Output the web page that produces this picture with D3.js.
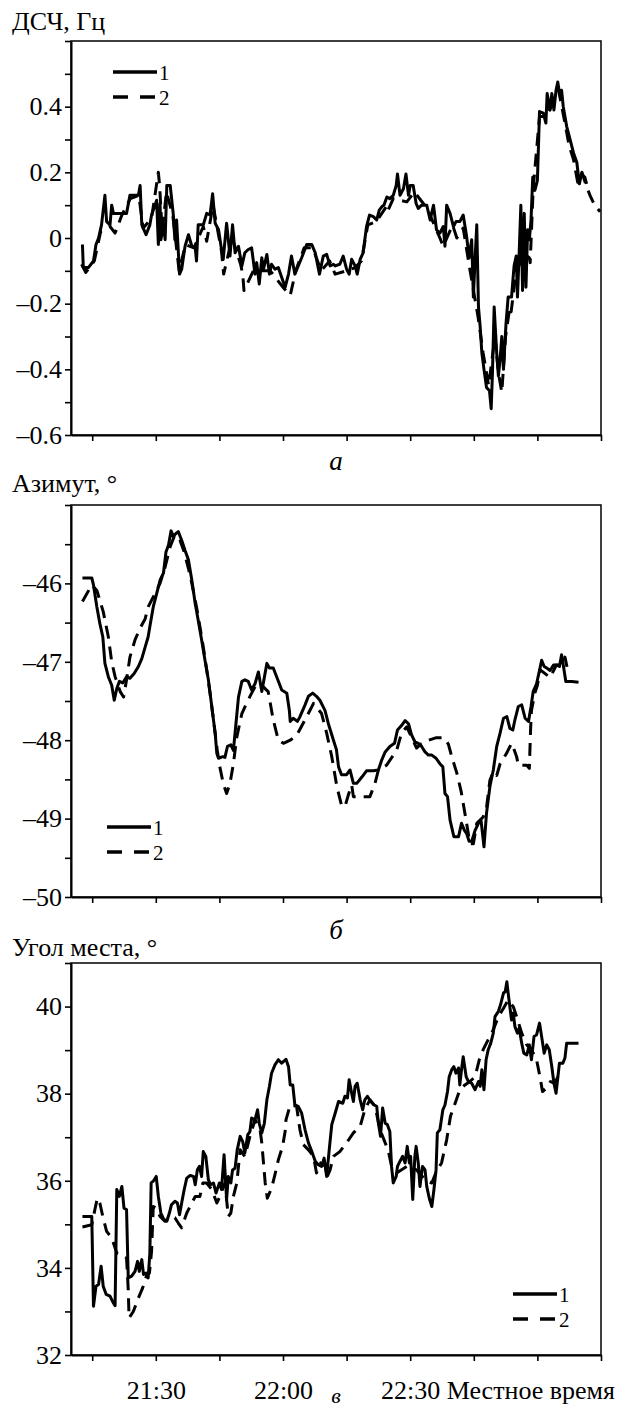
<!DOCTYPE html>
<html>
<head>
<meta charset="utf-8">
<script src="https://cdn.jsdelivr.net/npm/d3@7"></script>
<style>
    body { margin: 0; background: #fff; }
    svg { display: block; }
    svg text { font-family: "Liberation Serif", "Tinos", "Times New Roman", "DejaVu Serif", serif !important; fill: #000; }
</style>
</head>
<body>
<svg id="chart" width="618" height="1411"></svg>
<script>
// time is in minutes after 21:00 local time
var timeTicks = [15, 30, 45, 60, 75, 90, 105, 120, 135];
var timeLabels = {30: '21:30', 60: '22:00', 90: '22:30'};

// а) ДСЧ, Гц
var dschSolid = [[12.7,-0.02],[12.9,-0.09],[14.1,-0.09],[15.3,-0.07],[15.9,-0.02],[16.5,0.0],[17.2,0.04],[18.0,0.13],[18.4,0.05],[19.2,0.04],[19.6,0.1],[20.0,0.075],[23.1,0.075],[23.9,0.13],[25.9,0.13],[26.3,0.16],[26.7,0.04],[27.7,0.01],[28.6,0.04],[29.0,0.07],[29.8,0.1],[30.2,0.115],[30.6,-0.02],[31.0,0.105],[31.2,-0.005],[31.8,0.04],[32.2,-0.005],[32.6,0.16],[33.4,0.16],[34.1,0.075],[34.5,-0.005],[34.9,0.055],[35.6,-0.11],[36.1,-0.095],[36.9,-0.025],[37.7,0.01],[38.5,-0.025],[39.3,-0.03],[39.6,-0.07],[40.0,0.04],[41.2,0.04],[42.0,0.075],[42.8,0.07],[43.4,0.135],[44.0,0.045],[44.8,0.025],[45.5,-0.035],[45.9,-0.065],[46.7,0.045],[47.5,-0.055],[48.1,0.04],[48.7,-0.045],[49.5,-0.025],[50.3,-0.085],[51.0,-0.045],[51.8,-0.035],[52.6,-0.03],[53.4,-0.11],[53.8,-0.075],[54.4,-0.14],[55.0,-0.06],[55.4,-0.095],[56.2,-0.05],[56.8,-0.11],[57.3,-0.08],[58.1,-0.095],[58.9,-0.09],[59.7,-0.12],[60.5,-0.15],[61.3,-0.11],[62.0,-0.055],[62.8,-0.11],[63.6,-0.085],[64.4,-0.06],[65.6,-0.02],[66.8,-0.02],[67.6,-0.045],[68.6,-0.11],[69.5,-0.055],[70.3,-0.05],[71.1,-0.085],[71.9,-0.08],[72.3,-0.085],[73.4,-0.08],[74.2,-0.055],[75.0,-0.095],[75.6,-0.11],[76.2,-0.065],[77.0,-0.085],[77.5,-0.11],[78.2,-0.065],[78.9,-0.045],[79.7,0.035],[80.4,0.07],[81.3,0.065],[82.1,0.055],[82.7,0.085],[83.3,0.095],[83.8,0.1],[84.5,0.125],[85.2,0.12],[86.0,0.13],[86.7,0.16],[87.0,0.195],[87.6,0.13],[88.4,0.15],[89.0,0.195],[89.6,0.13],[90.0,0.16],[90.7,0.16],[91.4,0.105],[91.9,0.09],[92.7,0.1],[93.9,0.1],[94.7,0.055],[95.5,0.1],[96.2,0.025],[97.0,0.015],[97.8,0.035],[98.2,-0.025],[98.6,0.1],[99.4,0.075],[100.2,0.035],[100.8,0.05],[101.7,0.05],[102.5,0.07],[103.3,0.005],[103.9,-0.06],[104.5,-0.005],[104.9,-0.18],[105.3,-0.065],[105.7,0.04],[106.1,-0.21],[106.5,-0.27],[106.9,-0.35],[107.4,-0.4],[108.0,-0.455],[108.7,-0.465],[109.1,-0.52],[109.4,-0.41],[109.8,-0.21],[110.4,-0.35],[110.8,-0.42],[111.2,-0.37],[111.6,-0.3],[112.0,-0.4],[112.6,-0.26],[113.1,-0.18],[113.9,-0.18],[114.5,-0.085],[115.0,-0.055],[115.3,-0.18],[115.7,-0.045],[116.1,0.1],[116.5,-0.16],[116.9,0.075],[117.3,-0.15],[117.7,0.025],[118.1,-0.005],[118.5,0.055],[118.9,0.185],[119.4,0.145],[120.0,0.175],[120.5,0.385],[121.4,0.38],[122.0,0.35],[122.3,0.44],[123.0,0.39],[123.4,0.44],[123.9,0.39],[124.4,0.45],[124.8,0.475],[125.3,0.435],[125.7,0.45],[126.1,0.4],[126.9,0.34],[127.7,0.3],[128.5,0.26],[129.3,0.23],[129.9,0.165],[130.4,0.195],[131.2,0.185],[131.6,0.165]];
var dschDashed = [[12.5,-0.08],[13.5,-0.105],[15.5,-0.07],[17,0.02],[18.5,0.03],[19.2,0.035],[20.4,0.015],[22,0.07],[24,0.12],[26,0.13],[27,0.03],[29,0.06],[30.6,0.2],[30.9,0.16],[31.5,0.02],[32.5,0.14],[34,0.07],[35.5,-0.1],[37,-0.02],[39,-0.03],[41.2,0.035],[42,-0.01],[43.5,0.1],[45.5,-0.04],[46,-0.11],[48,0.0],[50,-0.08],[50.5,-0.11],[50.8,-0.16],[53,-0.1],[55,-0.1],[57,-0.1],[60,-0.15],[61.7,-0.175],[63,-0.1],[65,-0.03],[67,-0.03],[69,-0.1],[71,-0.07],[72.3,-0.11],[75,-0.1],[77,-0.09],[78.5,-0.07],[80,0.04],[82,0.05],[84.6,0.1],[84.8,0.085],[86,0.12],[89.2,0.11],[91,0.14],[94,0.09],[97,0.0],[97.8,-0.025],[100,0.04],[101,0.0],[102.5,0.03],[104,-0.09],[106,-0.24],[107.2,-0.35],[108.5,-0.45],[110,-0.3],[110.8,-0.41],[111.6,-0.47],[112.5,-0.3],[113.5,-0.21],[113.8,-0.225],[115,-0.1],[117,-0.05],[118.1,-0.06],[118.3,-0.075],[119,0.15],[120.5,0.37],[122,0.37],[124,0.42],[125,0.45],[126.5,0.35],[127.5,0.28],[128.5,0.24],[129.5,0.17],[130.5,0.2],[131.5,0.16],[132.4,0.13],[133.5,0.1],[134.8,0.08]];

// б) Азимут, °
var azSolid = [[12.7,-45.93],[14.9,-45.93],[15.3,-46.02],[16.1,-46.3],[16.8,-46.51],[17.5,-46.68],[18.0,-47.02],[18.8,-47.19],[19.6,-47.3],[20.2,-47.49],[20.8,-47.34],[21.4,-47.25],[22.2,-47.27],[23.1,-47.19],[23.9,-47.21],[24.9,-47.15],[25.9,-47.06],[26.7,-46.96],[27.5,-46.81],[28.2,-46.68],[28.6,-46.55],[29.4,-46.3],[30.2,-46.13],[31.0,-45.96],[31.8,-45.87],[32.4,-45.6],[33.0,-45.51],[33.6,-45.33],[34.1,-45.4],[34.8,-45.36],[35.3,-45.34],[36.1,-45.45],[36.9,-45.58],[37.7,-45.7],[38.5,-45.96],[39.3,-46.26],[40.0,-46.47],[40.8,-46.72],[41.6,-46.98],[42.4,-47.23],[43.2,-47.57],[44.0,-47.91],[44.4,-48.17],[44.8,-48.23],[45.8,-48.21],[46.3,-48.22],[46.9,-48.08],[47.7,-48.06],[48.3,-48.13],[48.9,-47.79],[49.5,-47.45],[50.3,-47.25],[51.0,-47.23],[51.8,-47.25],[52.6,-47.36],[53.4,-47.28],[54.2,-47.13],[55.0,-47.38],[55.5,-47.23],[56.2,-47.02],[56.8,-47.08],[57.7,-47.08],[58.5,-47.19],[59.7,-47.36],[60.9,-47.4],[61.5,-47.62],[61.7,-47.76],[62.4,-47.72],[63.4,-47.76],[64.0,-47.7],[65.2,-47.55],[66.0,-47.44],[67.0,-47.4],[67.9,-47.44],[68.7,-47.49],[69.9,-47.62],[70.7,-47.79],[71.9,-48.0],[72.6,-48.12],[73.1,-48.34],[73.8,-48.44],[75.0,-48.44],[75.8,-48.38],[76.6,-48.55],[77.4,-48.55],[78.6,-48.47],[79.7,-48.39],[81.3,-48.39],[82.5,-48.38],[83.3,-48.25],[84.1,-48.15],[85.2,-48.08],[86.3,-48.04],[87.0,-47.87],[88.0,-47.81],[88.8,-47.75],[89.6,-47.79],[90.3,-47.93],[91.1,-48.02],[91.9,-48.04],[92.7,-48.08],[93.5,-48.15],[94.3,-48.19],[95.1,-48.19],[96.1,-48.23],[97.0,-48.3],[97.7,-48.34],[98.2,-48.68],[98.8,-48.72],[99.4,-49.02],[100.3,-49.23],[101.4,-49.23],[102.1,-49.06],[102.8,-49.15],[103.3,-49.19],[103.9,-49.29],[104.5,-49.29],[105.3,-49.15],[106.1,-49.06],[106.7,-49.02],[107.4,-49.36],[108.0,-48.93],[108.8,-48.59],[109.6,-48.38],[110.4,-48.08],[111.2,-47.91],[112.0,-47.72],[112.8,-47.7],[113.5,-47.85],[114.2,-47.87],[114.7,-47.74],[115.5,-47.57],[116.3,-47.55],[117.1,-47.72],[117.9,-47.76],[118.5,-47.57],[119.0,-47.38],[119.8,-47.28],[120.5,-47.11],[121.0,-46.98],[121.6,-47.06],[122.2,-47.08],[123.0,-47.11],[123.8,-47.04],[124.5,-47.04],[125.2,-47.06],[125.7,-46.91],[126.1,-47.04],[126.7,-47.25],[128.1,-47.25],[129.7,-47.26]];
var azDashed = [[12.7,-46.23],[14.9,-46.02],[16.1,-46.09],[17.6,-46.36],[18.8,-46.68],[19.6,-47.0],[20.4,-47.19],[21.6,-47.38],[22.4,-47.45],[23.1,-47.23],[23.9,-46.94],[25.1,-46.72],[26.3,-46.57],[27.5,-46.45],[28.2,-46.3],[29.8,-46.13],[31.0,-46.0],[32.2,-45.79],[33.4,-45.53],[34.5,-45.38],[35.7,-45.45],[36.7,-45.6],[37.7,-45.81],[38.5,-46.0],[39.6,-46.3],[40.4,-46.55],[41.2,-46.81],[42.0,-47.1],[42.8,-47.4],[43.6,-47.74],[44.5,-48.13],[45.1,-48.34],[45.9,-48.55],[46.7,-48.68],[47.5,-48.55],[48.3,-48.3],[49.1,-47.96],[50.3,-47.66],[51.4,-47.53],[52.6,-47.4],[53.8,-47.28],[55.0,-47.3],[56.5,-47.38],[57.7,-47.74],[58.9,-48.0],[60.1,-48.04],[61.7,-48.0],[63.2,-47.94],[65.2,-47.74],[67.2,-47.53],[69.1,-47.66],[70.3,-47.91],[71.5,-48.21],[72.7,-48.59],[73.8,-48.83],[74.6,-48.85],[75.4,-48.7],[76.2,-48.57],[76.6,-48.72],[80.5,-48.72],[81.7,-48.55],[82.5,-48.38],[84.4,-48.32],[86.8,-48.13],[88.0,-47.9],[89.2,-47.83],[90.2,-47.95],[91.5,-48.1],[92.5,-48.05],[94.3,-48.0],[96.0,-47.97],[98.0,-47.97],[99.0,-48.05],[99.8,-48.21],[101.0,-48.42],[102.0,-48.65],[102.8,-48.9],[103.3,-49.06],[104.1,-49.32],[104.9,-49.32],[105.7,-49.06],[107.2,-48.98],[108.0,-48.86],[108.8,-48.51],[109.6,-48.4],[110.4,-48.45],[111.2,-48.3],[112.7,-48.17],[113.9,-48.04],[114.5,-48.12],[115.1,-48.21],[115.5,-48.32],[117.5,-48.32],[118.1,-48.36],[118.4,-47.85],[118.6,-47.62],[119.4,-47.4],[120.0,-47.3],[120.6,-47.1],[123.0,-47.2],[124.5,-47.04],[126.1,-47.04],[126.5,-46.94],[127.3,-47.15]];

// в) Угол места, °
var elSolid = [[12.7,35.18],[14.9,35.18],[15.3,33.12],[15.9,33.58],[16.5,33.62],[17.1,34.04],[17.6,33.58],[18.3,33.39],[19.2,33.35],[19.8,33.23],[20.4,33.13],[20.8,35.8],[21.4,35.64],[22.0,35.87],[22.5,35.37],[23.1,35.34],[23.5,33.77],[24.3,33.81],[25.1,33.92],[25.7,34.15],[26.1,33.92],[26.7,34.19],[27.1,33.85],[27.7,33.88],[28.2,33.77],[28.6,34.34],[28.9,35.95],[29.4,35.99],[30.1,36.1],[30.6,35.64],[31.2,35.26],[31.9,35.11],[32.6,35.07],[33.2,35.26],[33.7,35.45],[34.5,35.53],[35.1,35.49],[35.6,35.22],[36.1,35.49],[36.7,35.8],[37.3,36.06],[38.1,36.12],[38.9,36.1],[39.3,35.91],[39.8,36.25],[40.3,36.33],[40.8,36.1],[41.2,36.67],[41.8,36.56],[42.4,36.02],[42.9,35.91],[43.6,35.95],[44.2,35.72],[45.0,35.95],[45.5,35.8],[46.1,36.6],[46.7,35.57],[47.1,36.1],[47.7,35.95],[48.1,36.25],[48.7,36.29],[49.2,36.71],[49.9,37.02],[50.5,36.9],[51.0,36.64],[51.7,37.06],[52.2,37.13],[52.6,37.44],[53.4,37.4],[54.0,37.63],[54.4,37.32],[55.0,37.1],[55.6,37.32],[56.2,37.86],[56.8,38.17],[57.3,38.47],[58.1,38.66],[58.9,38.78],[59.7,38.7],[60.7,38.79],[61.3,38.62],[61.7,38.2],[62.3,38.2],[62.8,37.74],[63.6,37.71],[64.4,37.55],[65.2,37.17],[66.0,36.87],[66.8,36.67],[67.6,36.45],[68.3,36.37],[69.1,36.33],[69.7,36.52],[70.3,36.1],[70.9,36.71],[71.5,37.29],[72.3,37.55],[73.1,37.82],[74.1,37.78],[74.6,37.94],[75.2,37.9],[75.6,38.32],[76.2,38.01],[76.6,37.82],[77.0,38.17],[77.5,38.24],[78.2,37.86],[78.8,37.63],[79.3,37.86],[79.9,37.94],[80.7,37.82],[81.5,37.74],[82.1,37.71],[82.5,37.32],[83.0,37.02],[83.5,37.67],[84.1,37.32],[84.6,37.29],[85.2,37.13],[85.6,36.33],[86.0,35.95],[86.7,36.1],[87.0,36.33],[87.6,36.45],[88.2,36.56],[88.8,36.41],[89.3,36.79],[89.8,36.41],[90.1,36.56],[90.6,35.57],[91.1,36.56],[91.4,36.79],[91.9,36.41],[92.3,35.87],[92.9,36.33],[93.5,36.25],[93.9,35.87],[94.5,35.6],[95.1,35.41],[95.6,35.8],[96.1,36.25],[96.4,37.1],[97.0,37.17],[97.7,37.63],[98.2,37.74],[98.8,38.05],[99.2,38.39],[99.8,38.55],[100.3,38.62],[100.8,38.47],[101.4,38.59],[101.7,38.2],[102.1,38.55],[102.5,38.85],[103.2,38.39],[103.7,38.28],[104.5,38.24],[105.3,38.09],[106.1,38.28],[106.5,38.17],[106.9,38.55],[107.4,38.09],[107.9,38.78],[108.4,39.01],[109.0,39.16],[109.6,39.39],[110.0,39.77],[110.8,39.89],[111.3,40.04],[112.0,40.31],[112.4,40.34],[112.8,40.57],[113.1,40.31],[113.5,40.0],[113.9,39.69],[114.3,39.85],[114.7,39.54],[115.3,39.39],[115.7,39.5],[116.3,39.16],[116.8,38.93],[117.5,38.89],[118.1,39.12],[118.6,38.78],[119.2,39.31],[119.8,39.35],[120.5,39.62],[121.0,39.31],[121.6,38.93],[122.2,39.12],[122.8,39.01],[123.4,38.62],[123.9,38.24],[124.4,38.01],[124.8,38.36],[125.2,38.7],[126.0,38.7],[126.5,38.82],[126.9,39.16],[129.7,39.16]];
var elDashed = [[12.7,34.94],[14.9,34.99],[15.7,35.37],[16.2,35.6],[16.8,35.49],[17.5,35.18],[18.4,34.84],[19.6,34.69],[20.8,34.34],[22.0,34.3],[23.1,34.23],[23.5,33.5],[23.7,32.85],[24.7,33.0],[25.9,33.31],[26.9,33.54],[27.9,33.85],[28.5,33.88],[29.0,34.38],[29.4,35.41],[30.2,35.37],[31.0,35.18],[32.2,35.07],[33.4,35.18],[34.5,35.15],[35.3,35.03],[36.1,34.92],[37.3,35.26],[38.5,35.49],[39.3,35.64],[40.4,35.64],[41.1,35.95],[42.0,35.95],[43.2,35.8],[44.4,35.49],[45.1,35.64],[46.3,35.95],[47.1,35.18],[47.7,35.26],[48.3,35.64],[49.1,35.95],[49.9,36.71],[51.0,36.56],[52.2,37.02],[53.4,37.4],[54.6,37.17],[55.0,36.87],[55.4,36.41],[55.8,35.95],[56.3,35.6],[57.3,35.83],[58.1,36.14],[58.9,36.48],[59.9,36.79],[60.5,37.13],[60.7,37.4],[61.7,37.74],[63.2,37.71],[64.0,37.17],[64.8,36.83],[66.0,36.71],[67.2,36.56],[67.9,36.18],[68.9,36.41],[70.1,36.33],[70.3,36.06],[71.1,36.25],[71.9,36.56],[73.4,36.67],[75.0,36.87],[76.6,37.1],[78.2,37.25],[79.3,37.63],[80.5,37.86],[81.7,37.71],[82.9,37.17],[84.1,36.87],[84.8,36.71],[85.6,36.33],[86.8,36.18],[89.2,36.33],[91.5,36.25],[93.9,35.99],[95.1,35.95],[96.2,36.22],[97.4,36.41],[98.6,36.94],[99.5,37.48],[100.6,37.78],[101.7,38.09],[102.9,38.2],[104.1,38.28],[105.3,38.39],[106.3,38.78],[107.2,39.01],[108.4,39.24],[109.6,39.47],[110.8,39.77],[112.0,39.96],[113.1,40.15],[114.3,40.0],[115.1,39.77],[116.3,39.39],[117.5,39.12],[118.6,39.01],[119.8,38.78],[120.6,38.39],[121.2,38.05],[122.2,38.13],[123.1,38.28],[123.9,38.24],[124.5,38.32],[125.5,38.51]];

(function () {
    var width = 618,
        height = 1411,
        left = 71,
        right = 601,
        serif = '"Liberation Serif", "Tinos", "Times New Roman", "DejaVu Serif", serif',
        svg = d3.select('#chart');

    var x = d3.scaleLinear().domain([10, 135]).range([left, right]);

    var line = d3.line()
        .x(function (d) { return x(d[0]); });

    function fmt(v) {
        if (v === 0) return '0';
        return (v < 0 ? '\u2013' : '') + Math.abs(v);
    }

    function panel(p) {
        var y = d3.scaleLinear().domain(p.domain).range([p.bottom, p.top]);
        var g = svg.append('g');

        var ticks = d3.range(p.domain[0], p.domain[1] + p.step / 2, p.step)
            .map(function (v) { return +v.toFixed(2); });

        // frame
        g.append('rect')
            .attr('x', left).attr('y', p.top)
            .attr('width', right - left).attr('height', p.bottom - p.top)
            .style('fill', 'none').style('stroke', '#000').style('stroke-width', 1.5);

        var yAxis = g.append('g')
            .attr('transform', 'translate(' + left + ',0)')
            .call(d3.axisLeft(y).tickValues(ticks).tickSize(6).tickSizeOuter(0).tickPadding(3)
                .tickFormat(function (v) {
                    var k = v / p.labelStep;
                    return (Math.abs(k - Math.round(k)) < 1e-6 && v !== p.domain[1]) ? fmt(v) : '';
                }));

        var xAxis = g.append('g')
            .attr('transform', 'translate(0,' + p.bottom + ')')
            .call(d3.axisBottom(x).tickValues(timeTicks).tickSize(6).tickSizeOuter(0)
                .tickFormat(function (t) { return p.times ? (timeLabels[t] || '') : ''; }));
        xAxis.selectAll('text').attr('dy', null).attr('y', 44);

        [yAxis, xAxis].forEach(function (a) {
            a.attr('font-family', serif).attr('font-size', 26);
            a.select('.domain').style('stroke-width', 2);
            a.selectAll('.tick line').style('stroke-width', 1.6);
        });

        line.y(function (d) { return y(d[1]); });

        g.append('path')
            .attr('d', line(p.dashed))
            .style('fill', 'none').style('stroke', '#000').style('stroke-width', 3)
            .style('stroke-dasharray', '13,8').style('stroke-linejoin', 'round');

        g.append('path')
            .attr('d', line(p.solid))
            .style('fill', 'none').style('stroke', '#000').style('stroke-width', 3)
            .style('stroke-linejoin', 'round');

        // legend
        var lg = g.append('g').attr('transform', 'translate(' + p.legend[0] + ',' + p.legend[1] + ')');
        lg.append('line').attr('x1', 0).attr('x2', 44).attr('y1', 0).attr('y2', 0)
            .style('stroke', '#000').style('stroke-width', 3.5);
        lg.append('line').attr('x1', 0).attr('x2', 42).attr('y1', 25).attr('y2', 25)
            .style('stroke', '#000').style('stroke-width', 3.5).style('stroke-dasharray', '15,12');
        lg.append('text').attr('x', 46).attr('y', 8).attr('font-size', 21).text('1');
        lg.append('text').attr('x', 46).attr('y', 33).attr('font-size', 21).text('2');

        svg.append('text')
            .attr('x', 12).attr('y', p.titleY)
            .attr('font-size', 26)
            .text(p.title);

        svg.append('text')
            .attr('x', 336).attr('y', p.letterY)
            .attr('text-anchor', 'middle')
            .attr('font-size', p.letterSize).attr('font-style', 'italic')
            .text(p.letter);
    }

    panel({
        top: 41, bottom: 435, domain: [-0.6, 0.6], step: 0.1, labelStep: 0.2,
        title: 'ДСЧ, Гц', titleY: 30, letter: 'а', letterY: 470, letterSize: 27,
        solid: dschSolid, dashed: dschDashed, legend: [113, 72], times: false
    });

    panel({
        top: 505, bottom: 897, domain: [-50, -45], step: 0.5, labelStep: 1,
        title: 'Азимут, °', titleY: 492, letter: 'б', letterY: 939, letterSize: 27,
        solid: azSolid, dashed: azDashed, legend: [107, 827], times: false
    });

    panel({
        top: 963, bottom: 1355, domain: [32, 41], step: 1, labelStep: 2,
        title: 'Угол места, °', titleY: 956, letter: 'в', letterY: 1403, letterSize: 22,
        solid: elSolid, dashed: elDashed, legend: [513, 1294], times: true
    });

    svg.append('text')
        .attr('x', 615).attr('y', 1399)
        .attr('text-anchor', 'end')
        .attr('font-size', 26)
        .text('Местное время');
}());
</script>
</body>
</html>
